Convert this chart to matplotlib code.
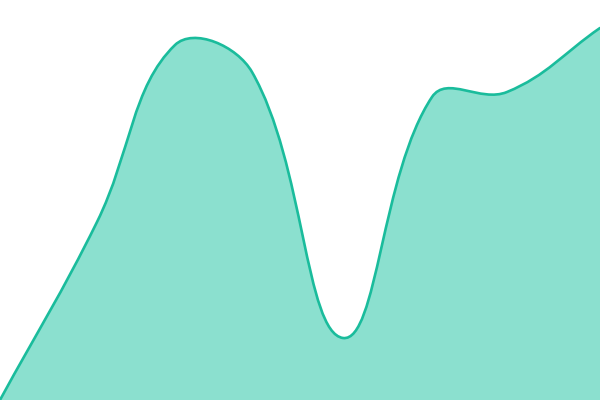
import numpy as np
import matplotlib
matplotlib.use('Agg')
import matplotlib.pyplot as plt
from matplotlib.path import Path
from matplotlib.patches import PathPatch

# Data
x_vals = [0, 97, 175, 252, 343, 432, 507, 600]
y_vals = [0, 178, 355, 328, 62, 303, 308, 372]

line_color = '#1abc9c'
fill_color = '#8be0cf'
tension = 0.4


# Control points like a cardinal spline (Chart.js style)
def control_points(xs, ys, t):
    pts = np.column_stack([xs, ys]).astype(float)
    n = len(pts)
    prev_cp = []
    next_cp = []
    for i in range(n):
        p0 = pts[max(i - 1, 0)]
        p1 = pts[i]
        p2 = pts[min(i + 1, n - 1)]
        d01 = np.hypot(*(p1 - p0))
        d12 = np.hypot(*(p2 - p1))
        tot = d01 + d12
        if tot == 0:
            fa = fb = 0
        else:
            fa = t * d01 / tot
            fb = t * d12 / tot
        prev_cp.append(p1 - fa * (p2 - p0))
        next_cp.append(p1 + fb * (p2 - p0))
    return pts, prev_cp, next_cp


pts, prev_cp, next_cp = control_points(x_vals, y_vals, tension)

verts = [tuple(pts[0])]
codes = [Path.MOVETO]
for i in range(1, len(pts)):
    verts += [tuple(next_cp[i - 1]), tuple(prev_cp[i]), tuple(pts[i])]
    codes += [Path.CURVE4] * 3

line_path = Path(verts, codes)

fill_verts = verts + [(x_vals[-1], 0), (x_vals[0], 0), verts[0]]
fill_codes = codes + [Path.LINETO, Path.LINETO, Path.CLOSEPOLY]
fill_path = Path(fill_verts, fill_codes)

fig = plt.figure(figsize=(6, 4), dpi=100)
ax = fig.add_axes([0, 0, 1, 1])

ax.add_patch(PathPatch(fill_path, facecolor=fill_color, edgecolor='none'))
ax.add_patch(PathPatch(line_path, facecolor='none', edgecolor=line_color,
                       linewidth=1.9, capstyle='round', joinstyle='round'))

ax.set_xlim(0, 600)
ax.set_ylim(0, 400)
ax.axis('off')

plt.savefig('out.png', dpi=100)
plt.close()
